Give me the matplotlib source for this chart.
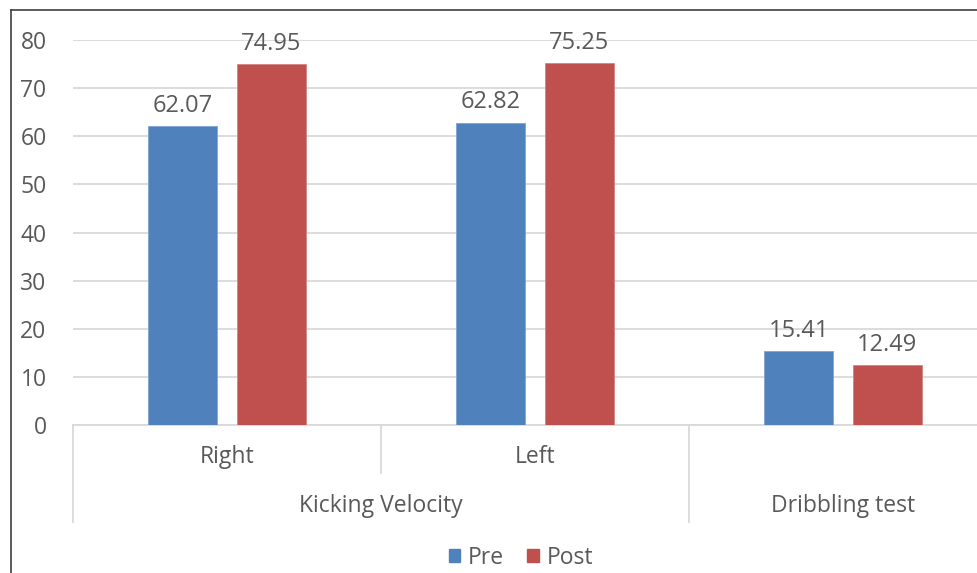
import matplotlib.pyplot as plt
import numpy as np
from matplotlib.lines import Line2D
from matplotlib.patches import Patch

plt.rcParams["font.family"] = ["Open Sans", "DejaVu Sans"]

groups = ["Kicking Velocity", "Dribbling test"]
subgroups = ["Right", "Left", ""]
pre = [62.07, 62.82, 15.41]
post = [74.95, 75.25, 12.49]
yticks = [0, 10, 20, 30, 40, 50, 60, 70, 80]

blue = "#4F81BD"
red = "#C0504D"
text_col = "#595959"
grid_col = "#D9D9D9"
fs = 16.5

fig = plt.figure(figsize=(9.77, 5.73), dpi=100)
ax = fig.add_axes([73 / 977, 1 - 425 / 573, 924 / 977, 385 / 573])

x = np.arange(len(pre))
width = 0.224
off = 0.143
b1 = ax.bar(x - off, pre, width, color=blue, edgecolor="#7FA3D3", linewidth=0.6, zorder=3)
b2 = ax.bar(x + off, post, width, color=red, edgecolor="#D48583", linewidth=0.6, zorder=3)

for bars, vals in ((b1, pre), (b2, post)):
    for rect, v in zip(bars, vals):
        ax.annotate(f"{v:.2f}", (rect.get_x() + rect.get_width() / 2, v),
                    xytext=(0, 6), textcoords="offset points",
                    ha="center", va="bottom", fontsize=17, color=text_col)

ax.set_xlim(-0.5, 2.5)
ax.set_ylim(0, 80)
ax.set_yticks(yticks)
ax.tick_params(axis="y", length=0, pad=19, labelsize=fs, labelcolor=text_col)
ax.set_xticks([])
ax.grid(axis="y", color=grid_col, linewidth=1.3, zorder=0)
for s in ["top", "right", "left"]:
    ax.spines[s].set_visible(False)
ax.spines["bottom"].set_color(grid_col)
ax.spines["bottom"].set_linewidth(1.3)

# two-level category axis
tr = ax.get_xaxis_transform()
for xpos, depth in ((-0.5, -0.252), (0.5, -0.125), (1.5, -0.252)):
    ax.plot([xpos, xpos], [0, depth], transform=tr, color=grid_col,
            linewidth=1.3, clip_on=False)
for xpos, lab in zip(x, subgroups):
    ax.text(xpos, -0.083, lab, transform=tr, ha="center", va="center",
            fontsize=fs, color=text_col)
for xpos, lab in zip([0.5, 2], groups):
    ax.text(xpos, -0.21, lab, transform=tr, ha="center", va="center",
            fontsize=fs, color=text_col)

# chart frame
fig.add_artist(Line2D([11 / 977, 11 / 977], [0, 1 - 10 / 573], color="#404040", linewidth=1.2))
fig.add_artist(Line2D([11 / 977, 1], [1 - 10 / 573, 1 - 10 / 573], color="#404040", linewidth=1.2))

handles = [Patch(color=blue, label="Pre"), Patch(color=red, label="Post")]
fig.legend(handles=handles, loc="center", bbox_to_anchor=(521 / 977, 1 - 558 / 573),
           ncol=2, frameon=False, fontsize=fs, handlelength=0.5, handleheight=0.5,
           handletextpad=0.35, columnspacing=1.0, labelcolor=text_col)

fig.savefig("out.png", dpi=100)
